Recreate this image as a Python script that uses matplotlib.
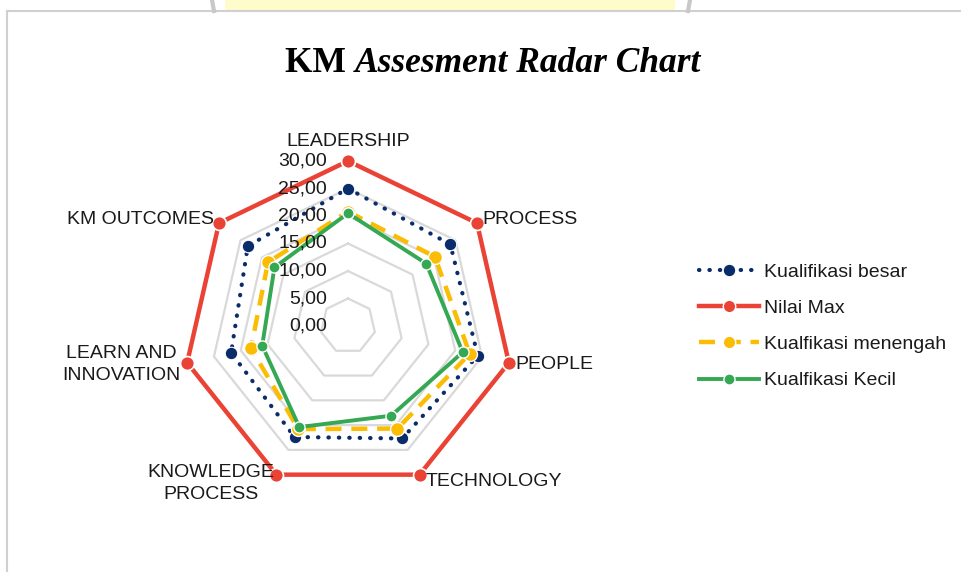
import numpy as np
import matplotlib
matplotlib.use("Agg")
import matplotlib.pyplot as plt
from matplotlib.lines import Line2D
from matplotlib.patches import Rectangle
import matplotlib.transforms as mtransforms

categories = ["LEADERSHIP", "PROCESS", "PEOPLE", "TECHNOLOGY",
              "KNOWLEDGE\nPROCESS", "LEARN AND\nINNOVATION", "KM OUTCOMES"]
besar = [25.0, 23.8, 24.2, 22.7, 22.4, 21.8, 23.3]
nilai_max = [30, 30, 30, 30, 30, 30, 30]
menengah = [20.8, 20.2, 22.7, 20.7, 20.8, 18.1, 18.6]
kecil = [20.5, 18.2, 21.4, 18.1, 20.4, 16.0, 17.1]
ticks = [0, 5, 10, 15, 20, 25, 30]
tick_labels = ["0,00", "5,00", "10,00", "15,00", "20,00", "25,00", "30,00"]
series_names = ["Kualifikasi besar", "Nilai Max", "Kualfikasi menengah", "Kualfikasi Kecil"]

W, H = 961, 572
fig = plt.figure(figsize=(W / 100, H / 100), dpi=100)
fig.patch.set_facecolor("white")

# frame and faint watermark remnants
fig.add_artist(Rectangle((225 / W, 1 - 11 / H), 450 / W, 11 / H, transform=fig.transFigure,
                         facecolor="#FFFCCB", edgecolor="none"))
fig.add_artist(Line2D([7 / W, 1], [1 - 11 / H, 1 - 11 / H], transform=fig.transFigure,
                      color="#D0D0D0", lw=1.5))
fig.add_artist(Line2D([7 / W, 7 / W], [0, 1 - 11 / H], transform=fig.transFigure,
                      color="#D0D0D0", lw=1.5))
fig.add_artist(Line2D([212 / W, 214 / W], [1, 1 - 11 / H], transform=fig.transFigure,
                      color="#C8C8C8", lw=3))
fig.add_artist(Line2D([690 / W, 688 / W], [1, 1 - 11 / H], transform=fig.transFigure,
                      color="#C8C8C8", lw=3))

cx, cy, R = 348, 326, 165
ax = fig.add_axes([(cx - R) / W, (H - cy - R) / H, 2 * R / W, 2 * R / H], projection="polar")
ax.set_theta_zero_location("N")
ax.set_theta_direction(-1)
ax.set_ylim(0, 30)
ax.grid(False)
ax.spines["polar"].set_visible(False)
ax.set_xticks([])
ax.set_yticks([])
ax.patch.set_alpha(0)

n = len(categories)
angles = np.arange(n) * 2 * np.pi / n
ang_c = np.append(angles, angles[0])

def closed(v):
    return np.append(np.asarray(v, float), v[0])

# polygon gridlines
for t in ticks[1:]:
    ax.plot(ang_c, [t] * (n + 1), color="#D9D9D9", lw=1.6, zorder=1, clip_on=False)

navy = "#0B2C6B"
red = "#EA4335"
yellow = "#FBBC04"
green = "#34A853"

ax.plot(ang_c, closed(nilai_max), color=red, lw=3.2, marker="o", ms=10, mfc=red,
        mec="white", mew=1.2, zorder=3, clip_on=False, solid_joinstyle="miter")
ax.plot(ang_c, closed(besar), color=navy, lw=3.0, linestyle=(0, (0.1, 2.4)),
        dash_capstyle="round", marker="o", ms=9, mfc=navy, mec="white", mew=0.8,
        zorder=4, clip_on=False)
ax.plot(ang_c, closed(menengah), color=yellow, lw=3.2, linestyle=(0, (3.6, 2.2)),
        marker="o", ms=10, mfc=yellow, mec="white", mew=1.0, zorder=5, clip_on=False)
ax.plot(ang_c, closed(kecil), color=green, lw=2.8, marker="o", ms=8, mfc=green,
        mec="white", mew=1.0, zorder=6, clip_on=False)

FS = 14
# radial tick labels
for t, lab in zip(ticks, tick_labels):
    tr = mtransforms.offset_copy(ax.transData, fig=fig, x=-21, y=0, units="dots")
    ax.text(0, t, lab, transform=tr, ha="right", va="center", fontsize=FS,
            family="Liberation Sans", color="#1a1a1a", zorder=7)

# category labels
lab_specs = [
    (0, 0, 20, "center", "center"),
    (1, 5, 4, "left", "center"),
    (2, 7, -2, "left", "center"),
    (3, 6, -7, "left", "center"),
    (4, -2, -9, "right", "center"),
    (5, -7, -2, "right", "center"),
    (6, -5, 4, "right", "center"),
]
for i, dx, dy, ha, va in lab_specs:
    tr = mtransforms.offset_copy(ax.transData, fig=fig, x=dx, y=dy, units="dots")
    ax.text(angles[i], 30, categories[i], transform=tr, ha=ha, va=va, fontsize=FS,
            family="Liberation Sans", color="#1a1a1a", linespacing=1.38,
            multialignment="center", zorder=8)

# title, centred as a whole
ty = 1 - 64 / H
t1 = fig.text(0, ty, "KM ", ha="left", va="center", fontsize=25.5,
              family="Liberation Serif", fontweight="bold")
t2 = fig.text(0, ty, "Assesment Radar Chart", ha="left", va="center", fontsize=25.5,
              family="Liberation Serif", fontweight="bold", style="italic")
fig.canvas.draw()
r = fig.canvas.get_renderer()
w1 = t1.get_window_extent(r).width
w2 = t2.get_window_extent(r).width
x0 = 493 - (w1 + w2) / 2
t1.set_x(x0 / W)
t2.set_x((x0 + w1) / W)

handles = [
    Line2D([], [], color=navy, lw=3.0, linestyle=(0, (0.1, 2.4)), dash_capstyle="round",
           marker="o", ms=9, mfc=navy, mec="white", mew=0.8),
    Line2D([], [], color=red, lw=3.2, marker="o", ms=9, mfc=red, mec="white", mew=1.0),
    Line2D([], [], color=yellow, lw=3.2, linestyle=(0, (3.6, 2.2)), marker="o", ms=9,
           mfc=yellow, mec="white", mew=1.0),
    Line2D([], [], color=green, lw=2.8, marker="o", ms=8, mfc=green, mec="white", mew=1.0),
]
leg = fig.legend(handles, series_names, loc="upper left",
                 bbox_to_anchor=(681 / W, 1 - 246 / H), frameon=False,
                 prop={"family": "Liberation Sans", "size": FS},
                 handlelength=3.1, handletextpad=0.25, labelspacing=0.95, numpoints=1)
for t in leg.get_texts():
    t.set_color("#1a1a1a")

fig.savefig("out.png", dpi=100, facecolor="white")
